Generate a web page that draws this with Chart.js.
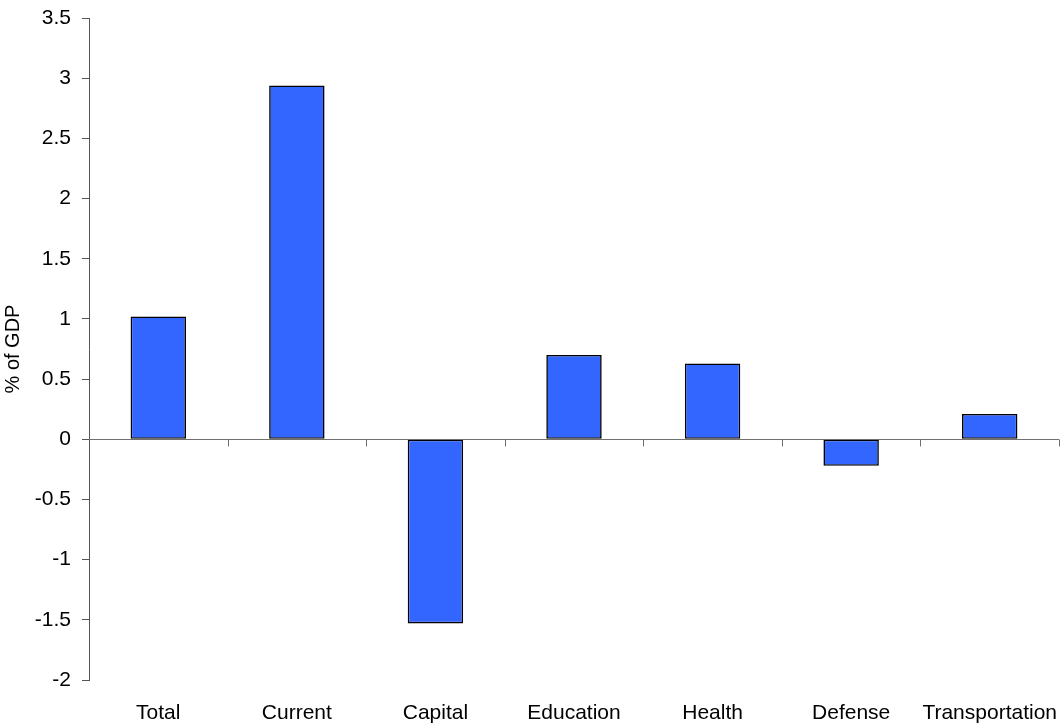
<!DOCTYPE html>
<html>
<head>
<meta charset="utf-8">
<script src="https://cdn.jsdelivr.net/npm/chart.js@4/dist/chart.umd.min.js"></script>
<style>
  html, body { margin: 0; padding: 0; background: #fff; }
  #wrap { width: 1064px; height: 726px; }
</style>
</head>
<body>
<div id="wrap"><canvas id="c" width="1064" height="726"></canvas></div>
<script>
// Change in spending by category, % of GDP
const categories = ['Total', 'Current', 'Capital', 'Education', 'Health', 'Defense', 'Transportation'];
const changeValues = [1.02, 2.94, -1.53, 0.70, 0.63, -0.22, 0.21];
const yMin = -2;
const yMax = 3.5;
const yStep = 0.5;

const FONT = { family: '"Liberation Sans", Arial, sans-serif', size: 21 };

// Draws the horizontal zero line with category-boundary tick marks hanging below it
const zeroAxis = {
  id: 'zeroAxis',
  afterDatasetsDraw(chart) {
    const { ctx, chartArea, scales } = chart;
    const x = scales.x, y = scales.y;
    const y0 = Math.round(y.getPixelForValue(0)) + 0.5;
    const half = (x.getPixelForValue(1) - x.getPixelForValue(0)) / 2;
    ctx.save();
    ctx.strokeStyle = '#707070';
    ctx.lineWidth = 1;
    ctx.beginPath();
    ctx.moveTo(chartArea.left, y0);
    ctx.lineTo(chartArea.right, y0);
    for (let i = 0; i < categories.length; i++) {
      const bx = Math.round(x.getPixelForValue(i) + half) + 0.5;
      ctx.moveTo(bx, y0);
      ctx.lineTo(bx, y0 + 7);
    }
    ctx.stroke();
    ctx.restore();
  }
};

new Chart(document.getElementById('c'), {
  type: 'bar',
  data: {
    labels: categories,
    datasets: [{
      data: changeValues,
      backgroundColor: '#3366FF',
      borderColor: '#000000',
      borderWidth: 1.6,
      borderSkipped: false,
      barPercentage: 0.4,
      categoryPercentage: 1.0
    }]
  },
  options: {
    responsive: false,
    animation: false,
    devicePixelRatio: 1,
    layout: { padding: { left: 0, right: 5, top: 18, bottom: 0 } },
    plugins: { legend: { display: false }, tooltip: { enabled: false } },
    scales: {
      x: {
        position: 'bottom',
        grid: { display: false },
        border: { display: false },
        ticks: { color: '#000', font: FONT, padding: 13, maxRotation: 0, autoSkip: false },
        afterFit(scale) { scale.height = 46; scale.paddingLeft = 0; scale.paddingRight = 0; }
      },
      y: {
        min: yMin,
        max: yMax,
        ticks: {
          stepSize: yStep, color: '#000', font: FONT, padding: 11,
          callback: (v) => String(Math.round(v * 10) / 10)
        },
        grid: { drawOnChartArea: false, drawTicks: true, tickLength: 7, color: '#555' },
        border: { display: true, color: '#555', width: 1 },
        title: { display: true, text: '% of GDP', color: '#000', font: { family: FONT.family, size: 20 }, padding: { top: 1, bottom: 0 } },
        afterFit(scale) { scale.width = 89; scale.paddingTop = 0; scale.paddingBottom = 0; }
      }
    }
  },
  plugins: [zeroAxis]
});
</script>
</body>
</html>
